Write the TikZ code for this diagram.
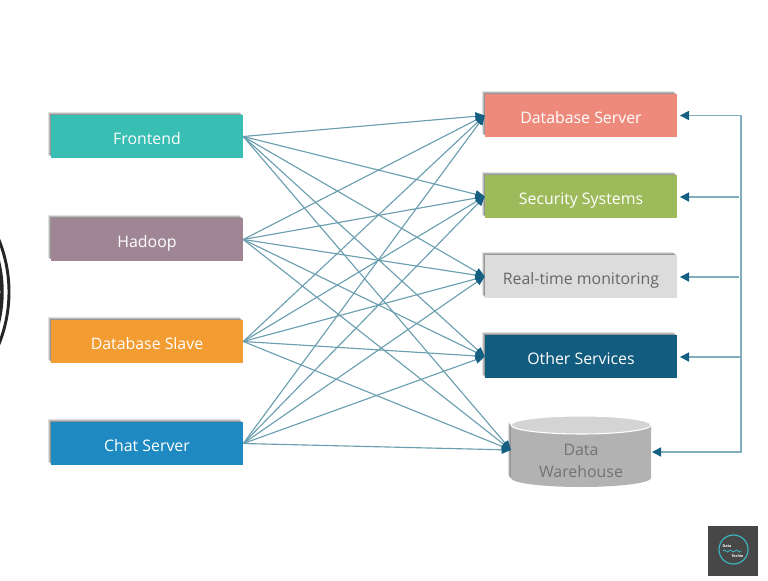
\documentclass[tikz,border=0pt]{standalone}
\usepackage{fontspec}
\setmainfont{Open Sans}
\usetikzlibrary{shadows,arrows.meta}

\definecolor{linkblue}{HTML}{6B9FB0}
\definecolor{feedblue}{HTML}{7FAEBF}
\definecolor{tipblue}{HTML}{156082}
\definecolor{logoteal}{HTML}{3CB4BE}

\def\barrelpath{(511, 425) arc (180:0:70 and 9) -- (651, 478) arc (0:180:70 and 9) -- cycle}

\tikzset{
	px/.style={x=0.75pt, y=-0.75pt},
	softshadow/.style={
		drop shadow={shadow xshift=-2.4pt, shadow yshift=2.4pt, fill=black, opacity=0.12},
		drop shadow={shadow xshift=-1.7pt, shadow yshift=1.7pt, fill=black, opacity=0.16},
		drop shadow={shadow xshift=-1pt, shadow yshift=1pt, fill=black, opacity=0.2}},
	box/.style={minimum width=144pt, minimum height=32pt, inner sep=0pt, text=white, text height=13pt, text depth=1pt,
		font=\fontsize{11.9}{14}\selectfont, softshadow},
	link/.style={draw=linkblue, line width=0.85pt, -{Triangle[length=7pt, width=6pt, color=tipblue]}},
	feed/.style={draw=feedblue, line width=1.1pt, -{Triangle[length=6.8pt, width=6.8pt, color=tipblue]}, shorten >=2pt},
}

\begin{document}
\begin{tikzpicture}[px]
	\useasboundingbox (0, 0) rectangle (768, 581);
	\fill[white] (0, 0) rectangle (768, 581);

	%%%%% LEFT EDGE %%%%%
	\begin{scope}
		\clip (0, 200) rectangle (20, 380);
		\draw[line width=2.2pt, color=black!85] (-130, 292) circle (139);
		\draw[line width=2.6pt, color=black!85] (-130, 292) circle (132);
	\end{scope}

	%%%%% SOURCES %%%%%
	\node[box, fill={rgb,255:red,56;green,190;blue,178}] (frontend) at (147, 136.5) {Frontend};
	\node[box, fill={rgb,255:red,160;green,134;blue,148}] (hadoop) at (147, 239.5) {Hadoop};
	\node[box, fill={rgb,255:red,243;green,156;blue,50}] (dbslave) at (147, 341.5) {Database Slave};
	\node[box, fill={rgb,255:red,30;green,138;blue,193}] (chat) at (147, 443.5) {Chat Server};

	%%%%% TARGETS %%%%%
	\node[box, fill={rgb,255:red,238;green,138;blue,124}] (dbserver) at (581, 115.5) {Database Server};
	\node[box, fill={rgb,255:red,158;green,187;blue,92}] (security) at (581, 196.5) {Security Systems};
	\node[box, fill={rgb,255:red,220;green,220;blue,220}, text=black!60] (monitor) at (581, 276.5) {Real-time monitoring};
	\node[box, fill={rgb,255:red,18;green,92;blue,127}] (other) at (581, 356.5) {Other Services};

	%%%%% WAREHOUSE %%%%%
	\foreach \off/\op in {3/0.12, 2.2/0.16, 1.3/0.2} {
		\fill[black, opacity=\op, shift={(-\off*0.75pt, \off*0.75pt)}] \barrelpath;
	}
	\fill[black!30] \barrelpath;
	\draw[line width=0.8pt, white, fill=black!17] (581, 425) ellipse (70 and 9);
	\node[text=black!55, align=center, inner sep=0pt, font=\fontsize{11.9}{17}\selectfont] (warehouse) at (581, 461) {Data\\Warehouse};

	\coordinate (wtip) at (511, 450);
	\coordinate (wfeed) at (652, 452);

	%%%%% LINKS %%%%%
	\foreach \from in {frontend, hadoop, dbslave, chat} {
		\foreach \to in {dbserver, security, monitor, other} {
			\draw[link] (\from.east) -- (\to.west);
		}
		\draw[link] (\from.east) -- (wtip);
	}

	%%%%% BUS %%%%%
	\coordinate (bustop) at (741, 115.5);
	\coordinate (busbot) at (741, 452);
	\coordinate (bus2) at (739, 197);
	\coordinate (bus3) at (739, 277);
	\coordinate (bus4) at (741, 357);
	\draw[feed] (bustop) -- (dbserver.east);
	\draw[feed] (bus2) -- (bus2 -| security.east);
	\draw[feed] (bus3) -- (bus3 -| monitor.east);
	\draw[feed] (bus4) -- (bus4 -| other.east);
	\draw[feed, shorten >=0pt] (bustop) -- (busbot) -- (wfeed);

	%%%%% LOGO %%%%%
	\fill[black!72] (708, 526) rectangle (758, 576);
	\draw[line width=0.9pt, color=logoteal] (733.5, 549.5) circle (14.5);
	\node[text=white, font=\fontsize{2.8}{3}\bfseries\selectfont, inner sep=0pt] (logoa) at (727, 546.5) {Data};
	\node[text=white, font=\fontsize{2.8}{3}\bfseries\selectfont, inner sep=0pt] (logob) at (737.5, 556) {Techie};
	\draw[line width=0.7pt, color=logoteal] (723, 551) sin (724.5, 550) cos (726, 551) sin (727.5, 552) cos (729, 551) sin (730.5, 550) cos (732, 551) sin (733.5, 552) cos (735, 551) sin (736.5, 550) cos (738, 551) sin (739.5, 552) cos (741, 551);
\end{tikzpicture}
\end{document}
